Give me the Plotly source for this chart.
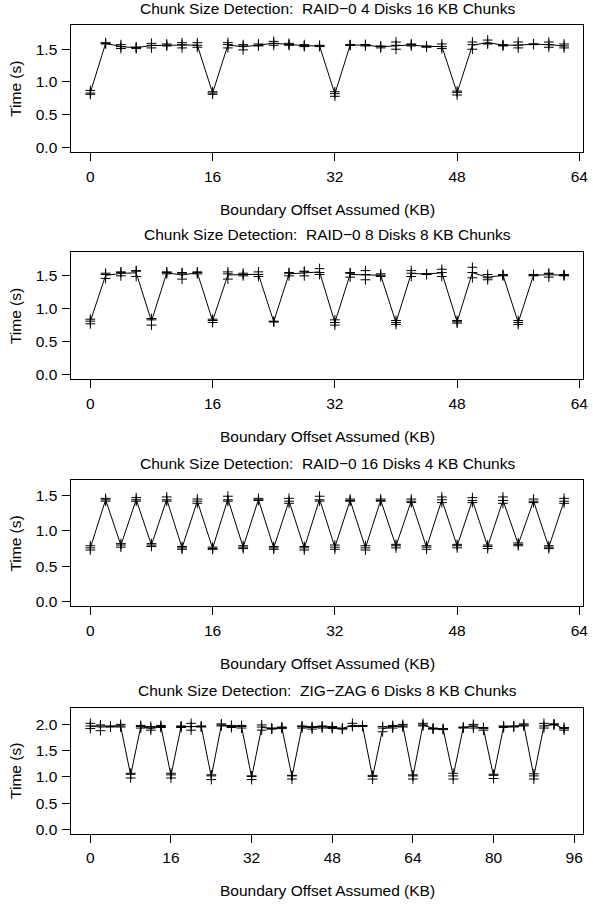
import plotly.graph_objects as go

# ---------------- data ----------------
x_64 = list(range(0, 64, 2))
x_96 = list(range(0, 96, 2))

titles = [
    "Chunk Size Detection:  RAID\u22120 4 Disks 16 KB Chunks",
    "Chunk Size Detection:  RAID\u22120 8 Disks 8 KB Chunks",
    "Chunk Size Detection:  RAID\u22120 16 Disks 4 KB Chunks",
    "Chunk Size Detection:  ZIG\u2212ZAG 6 Disks 8 KB Chunks",
]
x_label = "Boundary Offset Assumed (KB)"
y_label = "Time (s)"

x_ticks_64 = [0, 16, 32, 48, 64]
x_ticks_96 = [0, 16, 32, 48, 64, 80, 96]
y_ticks_15 = [0.0, 0.5, 1.0, 1.5]
y_ticks_20 = [0.0, 0.5, 1.0, 1.5, 2.0]

# Panel 1: RAID-0 4 disks 16 KB chunks (three trials)
p1_t1 = [0.87, 1.60, 1.57, 1.53, 1.59, 1.58, 1.60, 1.60, 0.85, 1.60, 1.55, 1.58, 1.62, 1.59, 1.57, 1.56,
         0.85, 1.57, 1.57, 1.55, 1.61, 1.58, 1.55, 1.58, 0.86, 1.61, 1.64, 1.57, 1.61, 1.58, 1.61, 1.58]
p1_t2 = [0.81, 1.58, 1.51, 1.51, 1.52, 1.55, 1.52, 1.53, 0.81, 1.52, 1.49, 1.55, 1.56, 1.56, 1.54, 1.54,
         0.78, 1.56, 1.55, 1.52, 1.50, 1.55, 1.53, 1.51, 0.80, 1.50, 1.58, 1.55, 1.52, 1.57, 1.53, 1.52]
p1_t3 = [0.83, 1.59, 1.54, 1.53, 1.56, 1.56, 1.57, 1.56, 0.83, 1.57, 1.57, 1.56, 1.59, 1.57, 1.55, 1.55,
         0.82, 1.56, 1.57, 1.54, 1.56, 1.57, 1.54, 1.54, 0.84, 1.57, 1.59, 1.56, 1.56, 1.58, 1.57, 1.55]

# Panel 2: RAID-0 8 disks 8 KB chunks
p2_t1 = [0.84, 1.54, 1.56, 1.58, 0.85, 1.56, 1.55, 1.56, 0.84, 1.56, 1.54, 1.56, 0.81, 1.55, 1.57, 1.61,
         0.83, 1.55, 1.58, 1.53, 0.82, 1.58, 1.53, 1.60, 0.82, 1.63, 1.52, 1.52, 0.82, 1.52, 1.54, 1.52]
p2_t2 = [0.77, 1.46, 1.50, 1.49, 0.75, 1.53, 1.45, 1.53, 0.79, 1.45, 1.50, 1.49, 0.80, 1.50, 1.50, 1.52,
         0.75, 1.48, 1.44, 1.49, 0.76, 1.49, 1.52, 1.49, 0.78, 1.47, 1.44, 1.50, 0.76, 1.50, 1.48, 1.50]
p2_t3 = [0.81, 1.52, 1.55, 1.57, 0.83, 1.55, 1.54, 1.55, 0.82, 1.53, 1.52, 1.52, 0.80, 1.54, 1.56, 1.55,
         0.79, 1.54, 1.52, 1.51, 0.79, 1.54, 1.53, 1.55, 0.80, 1.55, 1.47, 1.51, 0.79, 1.51, 1.53, 1.51]

# Panel 3: RAID-0 16 disks 4 KB chunks
p3_t1 = [0.79, 1.46, 0.82, 1.47, 0.82, 1.48, 0.78, 1.45, 0.77, 1.49, 0.79, 1.46, 0.78, 1.46, 0.78, 1.49,
         0.80, 1.45, 0.79, 1.45, 0.81, 1.45, 0.79, 1.48, 0.81, 1.47, 0.80, 1.48, 0.83, 1.45, 0.79, 1.46]
p3_t2 = [0.73, 1.42, 0.77, 1.42, 0.78, 1.42, 0.74, 1.39, 0.74, 1.42, 0.75, 1.43, 0.74, 1.39, 0.73, 1.42,
         0.74, 1.42, 0.73, 1.42, 0.76, 1.40, 0.74, 1.40, 0.76, 1.40, 0.75, 1.39, 0.79, 1.40, 0.75, 1.39]
p3_t3 = [0.76, 1.44, 0.80, 1.44, 0.80, 1.44, 0.76, 1.42, 0.75, 1.44, 0.77, 1.44, 0.76, 1.42, 0.76, 1.44,
         0.77, 1.43, 0.76, 1.43, 0.79, 1.42, 0.77, 1.44, 0.79, 1.43, 0.78, 1.43, 0.81, 1.42, 0.77, 1.42]

# Panel 4: ZIG-ZAG 6 disks 8 KB chunks
p4_t1 = [2.02, 1.99, 1.97, 2.00, 1.07, 1.98, 1.96, 1.98, 1.07, 1.97, 2.02, 1.97, 1.04, 2.01, 1.98, 1.98,
         1.02, 1.99, 1.93, 1.95, 1.03, 1.97, 1.96, 1.97, 1.96, 1.93, 2.02, 1.98, 1.03, 1.96, 1.98, 2.00,
         1.04, 2.02, 1.93, 1.92, 1.07, 1.95, 2.00, 1.94, 1.05, 1.97, 1.97, 2.01, 1.06, 2.02, 2.01, 1.94]
p4_t2 = [1.92, 1.88, 1.95, 1.95, 0.98, 1.93, 1.89, 1.94, 0.98, 1.94, 1.89, 1.95, 0.95, 1.97, 1.94, 1.93,
         0.95, 1.89, 1.91, 1.92, 0.96, 1.93, 1.91, 1.93, 1.92, 1.91, 1.96, 1.96, 0.96, 1.86, 1.93, 1.95,
         0.96, 1.97, 1.91, 1.90, 0.96, 1.93, 1.93, 1.89, 0.97, 1.94, 1.95, 1.97, 0.96, 1.93, 1.99, 1.89]
p4_t3 = [1.97, 1.97, 1.96, 1.97, 1.05, 1.96, 1.93, 1.96, 1.04, 1.96, 1.96, 1.96, 1.02, 1.99, 1.96, 1.96,
         1.01, 1.95, 1.92, 1.94, 1.02, 1.96, 1.94, 1.96, 1.94, 1.92, 1.97, 1.97, 1.01, 1.93, 1.96, 1.97,
         1.02, 1.99, 1.92, 1.91, 1.02, 1.94, 1.97, 1.92, 1.03, 1.96, 1.96, 1.99, 1.02, 1.97, 2.00, 1.92]

panels = [
    (x_64, [p1_t1, p1_t2, p1_t3], x_ticks_64, y_ticks_15),
    (x_64, [p2_t1, p2_t2, p2_t3], x_ticks_64, y_ticks_15),
    (x_64, [p3_t1, p3_t2, p3_t3], x_ticks_64, y_ticks_15),
    (x_96, [p4_t1, p4_t2, p4_t3], x_ticks_96, y_ticks_20),
]

# ---------------- layout geometry (pixels) ----------------
W, H = 593, 905
BOX_L, BOX_R = 72, 588
box_tb = [(25, 152.7), (253.3, 381), (482.3, 609), (710.7, 837.3)]
title_y = [9, 236, 466, 694]
xlab_y = [210, 438, 666, 894.5]
y_ranges = [[-0.072, 1.872], [-0.075, 1.86], [-0.066, 1.717], [-0.078, 2.32]]

FONT = "Liberation Sans, Arial, Helvetica, sans-serif"
FS = 15.5

def py(p):
    return 1 - p / H

fig = go.Figure()
layout = dict(
    width=W, height=H, margin=dict(l=0, r=0, t=0, b=0),
    paper_bgcolor="white", plot_bgcolor="white", showlegend=False,
    font=dict(family=FONT, size=FS, color="black"),
)
annotations = []
cx = (BOX_L + BOX_R) / 2 / W

for i, (xs, trials, xt, yt) in enumerate(panels):
    n = i + 1
    xa = "x" if n == 1 else f"x{n}"
    ya = "y" if n == 1 else f"y{n}"
    mean = [sum(v) / len(v) for v in zip(*trials)]
    fig.add_trace(go.Scatter(x=xs, y=mean, mode="lines", xaxis=xa, yaxis=ya,
                             line=dict(color="black", width=1), hoverinfo="skip"))
    for t in trials:
        fig.add_trace(go.Scatter(x=xs, y=t, mode="markers", xaxis=xa, yaxis=ya,
                                 marker=dict(symbol="cross-thin-open", size=7,
                                             line=dict(color="black", width=1), color="black")))
    span = xs[-1] - xs[0]
    xr = [xs[0] - 0.04 * span, xs[-1] + 0.04 * span]
    top, bot = box_tb[i]
    axcommon = dict(showline=True, mirror=True, linecolor="black", linewidth=1,
                    ticks="outside", ticklen=8, tickwidth=1, tickcolor="black",
                    showgrid=False, zeroline=False, fixedrange=True,
                    ticklabeloverflow="allow",
                    tickfont=dict(family=FONT, size=FS, color="black"))
    layout["xaxis" if n == 1 else f"xaxis{n}"] = dict(
        axcommon, domain=[BOX_L / W, BOX_R / W], range=xr, tickvals=xt,
        anchor=ya, ticklabelstandoff=2)
    layout["yaxis" if n == 1 else f"yaxis{n}"] = dict(
        axcommon, domain=[py(bot), py(top)], range=y_ranges[i], tickvals=yt,
        tickformat=".1f", anchor=xa, ticklabelstandoff=2)
    annotations.append(dict(text=titles[i], x=cx, y=py(title_y[i]), xref="paper", yref="paper",
                            xanchor="center", yanchor="middle", showarrow=False,
                            font=dict(family=FONT, size=FS, color="black")))
    annotations.append(dict(text=x_label, x=cx, y=py(xlab_y[i]), xref="paper", yref="paper",
                            xanchor="center", yanchor="middle", showarrow=False,
                            font=dict(family=FONT, size=FS, color="black")))
    annotations.append(dict(text=y_label, x=15.5 / W, y=py((top + bot) / 2), xref="paper", yref="paper",
                            xanchor="center", yanchor="middle", showarrow=False, textangle=-90,
                            font=dict(family=FONT, size=FS, color="black")))

layout["annotations"] = annotations
fig.update_layout(**layout)
fig.write_html("out.html", config={"displayModeBar": False, "staticPlot": True},
               post_script="document.body.style.margin='0';document.body.style.overflow='hidden';")
